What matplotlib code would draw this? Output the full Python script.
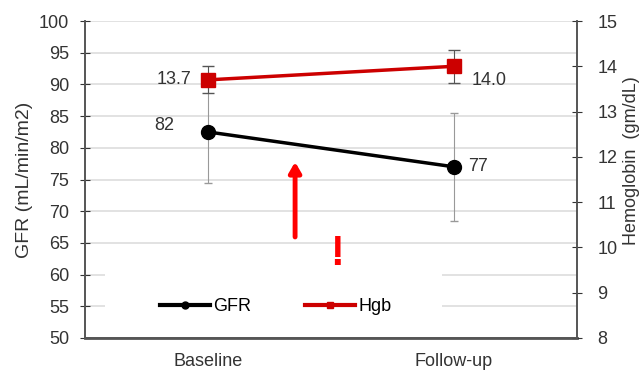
import matplotlib.pyplot as plt
from matplotlib.lines import Line2D
from matplotlib.patches import Rectangle
import numpy as np

plt.rcParams['font.family'] = ['Liberation Sans', 'DejaVu Sans']

# data
timepoints = ["Baseline", "Follow-up"]
gfr = [82.5, 77.0]
gfr_err = [8.0, 8.5]
gfr_labels = ["82", "77"]
hgb = [13.7, 14.0]
hgb_err = [0.3, 0.36]
hgb_labels = ["13.7", "14.0"]

x = np.array([0.5, 1.5])
txt_col = "#333333"
fs = 13

fig = plt.figure(figsize=(6.42, 3.74), dpi=100)
ax = fig.add_axes([85 / 642, 1 - 338 / 374, 492 / 642, 317 / 374])
ax2 = ax.twinx()

# gridlines on left scale
ax.set_ylim(50, 100)
ax.set_yticks(np.arange(50, 101, 5))
ax.set_xlim(0, 2)
for y in np.arange(55, 101, 5):
    ax.axhline(y, color="#dddddd", lw=1.2, zorder=0)
# white area behind the legend hides the gridlines there
ax.add_patch(Rectangle((0.041, 0.057), 0.685, 0.205, transform=ax.transAxes,
                       facecolor="white", edgecolor="none", zorder=0.5))

# GFR
ax.errorbar(x, gfr, yerr=gfr_err, fmt="none", ecolor="#999999", elinewidth=0.8,
            capsize=3, zorder=2)
ax.plot(x, gfr, color="black", lw=2.5, marker="o", markersize=10, zorder=3)

# Hgb
ax2.set_ylim(8, 15)
ax2.set_yticks(range(8, 16))
ax2.errorbar(x, hgb, yerr=hgb_err, fmt="none", ecolor="#555555", elinewidth=0.8,
             capsize=4, zorder=2)
ax2.plot(x, hgb, color="#cc0000", lw=2.5, marker="s", markersize=10, zorder=3)

# data labels
ax.annotate(gfr_labels[0], (x[0], gfr[0]), xytext=(-24, 5), textcoords="offset points",
            ha="right", va="center", fontsize=fs, color=txt_col)
ax.annotate(gfr_labels[1], (x[1], gfr[1]), xytext=(10, 0), textcoords="offset points",
            ha="left", va="center", fontsize=fs, color=txt_col)
ax2.annotate(hgb_labels[0], (x[0], hgb[0]), xytext=(-12, 0), textcoords="offset points",
             ha="right", va="center", fontsize=fs, color=txt_col)
ax2.annotate(hgb_labels[1], (x[1], hgb[1]), xytext=(13, -10), textcoords="offset points",
             ha="left", va="center", fontsize=fs, color=txt_col)

# red arrow and exclamation mark
ax.annotate("", xy=(0.854, 78.2), xytext=(0.854, 65.5),
            arrowprops=dict(arrowstyle="-|>,head_width=0.35,head_length=0.6",
                            color="red", lw=3.5))
ax.text(1.024, 63.2, "!", color="red", fontsize=30, fontweight="bold",
        ha="center", va="center")

# axes styling
ax.set_xticks(x)
ax.set_xticklabels(timepoints, fontsize=fs, color=txt_col)
ax.tick_params(axis="x", length=0, pad=11)
ax.tick_params(axis="y", labelsize=fs, colors=txt_col, length=7, direction="inout", pad=8)
ax2.tick_params(axis="y", labelsize=fs, colors=txt_col, length=7, direction="inout", pad=11)
for a in (ax, ax2):
    a.spines["top"].set_visible(False)
    for s in ("left", "right", "bottom"):
        a.spines[s].set_color("#555555")
        a.spines[s].set_linewidth(1.2)
ax.spines["bottom"].set_linewidth(2)

ax.set_ylabel("GFR (mL/min/m2)", fontsize=14, color=txt_col, labelpad=4)
ax2.set_ylabel("Hemoglobin  (gm/dL)", fontsize=fs, color=txt_col, labelpad=8)
ax2.yaxis.set_label_coords(1.093, 0.56)

handles = [Line2D([], [], color="black", lw=3, marker="o", markersize=5),
           Line2D([], [], color="#cc0000", lw=3, marker="s", markersize=5)]
ax2.legend(handles, ["GFR", "Hgb"], loc="center left", bbox_to_anchor=(0.152, 0.098),
           ncol=2, frameon=False, fontsize=fs, borderpad=0, borderaxespad=0,
           handlelength=2.77, handletextpad=0.17, columnspacing=3.0)

fig.savefig("out.png", dpi=100)
